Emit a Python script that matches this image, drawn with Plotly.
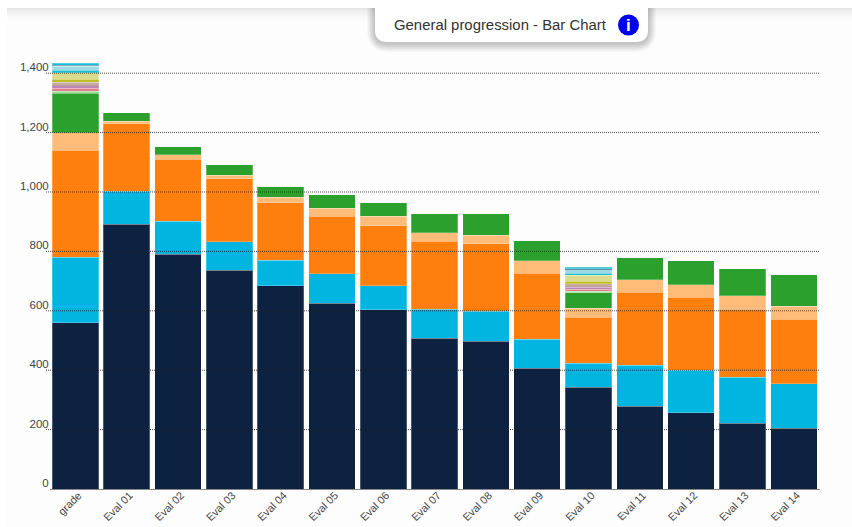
import plotly.graph_objects as go

W, H = 852, 527
categories = ["grade"] + [f"Eval {i:02d}" for i in range(1, 15)]
tick_values = [0, 200, 400, 600, 800, 1000, 1200, 1400]

navy = [559, 892, 791, 737, 684, 626, 603, 508, 498, 407, 343, 279, 256, 222, 204]
cyan = [222, 111, 111, 95, 87, 98, 81, 98, 101, 98, 81, 138, 144, 155, 150]
orange = [360, 226, 209, 212, 192, 195, 202, 229, 226, 222, 155, 246, 246, 229, 218]
light_orange = [58, 10, 14, 13, 20, 27, 33, 27, 30, 41, 30, 41, 41, 44, 44]
green = [134, 27, 27, 34, 37, 44, 44, 64, 71, 70, 51, 74, 84, 91, 105]
light_green = [7, 0, 0, 0, 0, 0, 0, 0, 0, 0, 5, 0, 0, 0, 1]
rose = [10, 0, 0, 0, 0, 0, 0, 0, 0, 0, 8, 0, 0, 0, 0]
mauve = [7, 0, 0, 0, 0, 0, 0, 0, 0, 0, 6, 0, 0, 0, 0]
brown = [3, 0, 0, 0, 0, 0, 0, 0, 0, 0, 3, 0, 0, 0, 0]
tan = [10, 0, 0, 0, 0, 0, 0, 0, 0, 0, 9, 0, 0, 0, 0]
olive = [10, 0, 0, 0, 0, 0, 0, 0, 0, 0, 9, 0, 0, 0, 0]
light_olive = [22, 0, 0, 0, 0, 0, 0, 0, 0, 0, 19, 0, 0, 0, 0]
teal = [8, 0, 0, 0, 0, 0, 0, 0, 0, 0, 8, 0, 0, 0, 0]
light_teal = [13, 0, 0, 0, 0, 0, 0, 0, 0, 0, 11, 0, 0, 0, 0]
slate = [4, 0, 0, 0, 0, 0, 0, 0, 0, 0, 4, 0, 0, 0, 0]
top_teal = [7, 0, 0, 0, 0, 0, 0, 0, 0, 0, 5, 0, 0, 0, 0]

series = [
    (navy, "#0d2240"), (cyan, "#00b5e0"), (orange, "#ff7f0e"), (light_orange, "#ffbb78"),
    (green, "#2ca02c"), (light_green, "#98df8a"), (rose, "#e0808f"), (mauve, "#bb85b5"),
    (brown, "#8c564b"), (tan, "#c9a8a0"), (olive, "#bcbd22"), (light_olive, "#dbdb8d"),
    (teal, "#17becf"), (light_teal, "#9edae5"), (slate, "#33658a"), (top_teal, "#17becf"),
]

fig = go.Figure()
for vals, col in series:
    fig.add_bar(x=categories, y=vals, marker_color=col,
                marker_line=dict(color="rgba(255,255,255,0.25)", width=1), showlegend=False)


def px(x):
    return x / W


def py(y):
    return 1 - y / H


def rounded(x0, y0, x1, y1, r):
    a0, b0, a1, b1 = px(x0), py(y0), px(x1), py(y1)
    rx, ry = r / W, r / H
    return (f"M {a0} {b0} L {a1} {b0} L {a1} {b1 + ry} Q {a1} {b1} {a1 - rx} {b1} "
            f"L {a0 + rx} {b1} Q {a0} {b1} {a0} {b1 + ry} Z")


shapes = []
shapes.append(dict(type="rect", xref="paper", yref="paper", x0=px(7), x1=1, y0=0, y1=py(8),
                   fillcolor="#fdfdfd", line_width=0, layer="below"))
for i in range(16):
    shapes.append(dict(type="rect", xref="paper", yref="paper", x0=px(7), x1=1,
                       y0=py(8 + i + 1), y1=py(8 + i), fillcolor="#000000",
                       opacity=0.085 * (1 - i / 16) ** 2, line_width=0, layer="below"))
for t in tick_values[1:]:
    shapes.append(dict(type="line", xref="paper", yref="y", x0=px(46), x1=px(820), y0=t, y1=t,
                       line=dict(color="#222222", width=0.8, dash="1px,1px"), layer="above"))
for i in range(10, 0, -1):
    shapes.append(dict(type="path", xref="paper", yref="paper",
                       path=rounded(375 - i * 0.8, 8, 648 + i * 0.8, 42 + i * 0.9 + 1, 12 + i),
                       fillcolor="#000000", opacity=0.022, line_width=0, layer="above"))
shapes.append(dict(type="path", xref="paper", yref="paper", path=rounded(375, 8, 648, 42, 12),
                   fillcolor="#ffffff", line_width=0, layer="above"))
shapes.append(dict(type="circle", xref="paper", yref="paper", x0=px(618), x1=px(639),
                   y0=py(35.5), y1=py(14.5), fillcolor="#0000ee", line_width=0, layer="above"))

annotations = [
    dict(text="General progression - Bar Chart", xref="paper", yref="paper", x=px(500.5), y=py(25),
         xanchor="center", yanchor="middle", showarrow=False,
         font=dict(family="Liberation Sans, Arial", size=14.9, color="#333333")),
    dict(text="<b>i</b>", xref="paper", yref="paper", x=px(628.5), y=py(25),
         xanchor="center", yanchor="middle", showarrow=False,
         font=dict(family="Liberation Sans", size=17, color="#ffffff")),
]

fig.update_layout(
    width=W, height=H, barmode="stack", bargap=0.094,
    margin=dict(l=0, r=0, t=0, b=0), paper_bgcolor="#ffffff", plot_bgcolor="rgba(0,0,0,0)",
    font=dict(family="Liberation Sans, Arial", color="#444444"),
    shapes=shapes, annotations=annotations,
    xaxis=dict(domain=[px(49.7), px(819.5)], tickangle=-45, tickfont=dict(size=10.8),
               ticklabelshift=3, ticklabelstandoff=-5, showline=True, linecolor="#888888",
               linewidth=1, showgrid=False, ticks="", fixedrange=True, automargin=False),
    yaxis=dict(domain=[py(489), py(60)], range=[0, 1444.4], tickvals=tick_values,
               tickformat=",", ticklabelposition="outside top", ticklabelshift=2, showgrid=False,
               zeroline=False, ticks="", tickfont=dict(size=11.5), fixedrange=True, automargin=False),
)

fig.write_html("out.html", config={"displayModeBar": False},
               post_script="document.body.style.margin='0';document.body.style.overflow='hidden';")
